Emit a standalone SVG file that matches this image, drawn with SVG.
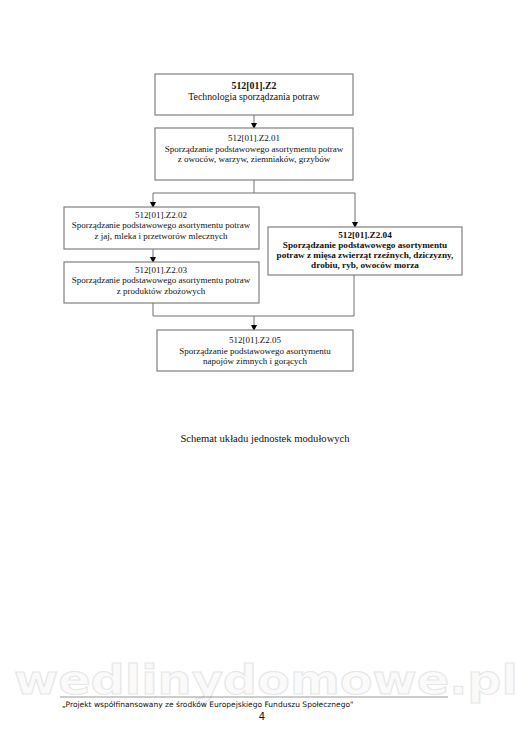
<svg xmlns="http://www.w3.org/2000/svg" width="530" height="750" viewBox="0 0 530 750">
<defs>
<marker id="arr" markerWidth="6" markerHeight="6" refX="5" refY="3" orient="auto" markerUnits="userSpaceOnUse">
<path d="M0,0 L6,3 L0,6 Z" fill="#000"/>
</marker>
<style>
.box{fill:#fff;stroke:#808080;stroke-width:1.2}
.t{font-family:"Liberation Serif","Times New Roman",serif;font-size:9px;fill:#111;text-anchor:middle}
.b{font-weight:bold;font-size:9.2px}
.h{font-size:9.8px}
.cap{font-size:10.6px}
.c{fill:none;stroke:#707070;stroke-width:1}
.ca{fill:none;stroke:#707070;stroke-width:1;marker-end:url(#arr)}
</style>
</defs>
<rect width="530" height="750" fill="#fff"/>
<g id="connectors">
<path class="ca" d="M254,115 V128"/>
<path class="c" d="M254,180 V193 M153,193 H355"/>
<path class="ca" d="M153,193 V207"/>
<path class="ca" d="M355,193 V227"/>
<path class="ca" d="M153,249 V262"/>
<path class="c" d="M153,303 V316 H354 V275"/>
<path class="ca" d="M254,316 V330"/>
</g>
<g id="n-z2">
<rect class="box" x="155" y="74" width="198" height="41"/>
<text class="t h" x="254" y="89" font-weight="bold">512[01].Z2</text>
<text class="t h" x="254" y="100">Technologia sporządzania potraw</text>
</g>
<g id="n-z201">
<rect class="box" x="155" y="128" width="198" height="52"/>
<text class="t" x="254" y="141">512[01].Z2.01</text>
<text class="t" x="254" y="152">Sporządzanie podstawowego asortymentu potraw</text>
<text class="t" x="254" y="162">z owoców, warzyw, ziemniaków, grzybów</text>
</g>
<g id="n-z202">
<rect class="box" x="64" y="207" width="195" height="42"/>
<text class="t" x="161" y="218">512[01].Z2.02</text>
<text class="t" x="161" y="228">Sporządzanie podstawowego asortymentu potraw</text>
<text class="t" x="161" y="239">z jaj, mleka i przetworów mlecznych</text>
</g>
<g id="n-z203">
<rect class="box" x="64" y="262" width="195" height="41"/>
<text class="t" x="161" y="273">512[01].Z2.03</text>
<text class="t" x="161" y="283">Sporządzanie podstawowego asortymentu potraw</text>
<text class="t" x="161" y="294">z produktów zbożowych</text>
</g>
<g id="n-z204">
<rect class="box" x="268" y="227" width="194" height="48"/>
<text class="t b" x="365" y="238">512[01].Z2.04</text>
<text class="t b" x="365" y="248">Sporządzanie podstawowego asortymentu</text>
<text class="t b" x="365" y="258">potraw z mięsa zwierząt rzeźnych, dziczyzny,</text>
<text class="t b" x="365" y="268">drobiu, ryb, owoców morza</text>
</g>
<g id="n-z205">
<rect class="box" x="157" y="330" width="196" height="41"/>
<text class="t" x="255" y="343">512[01].Z2.05</text>
<text class="t" x="255" y="354">Sporządzanie podstawowego asortymentu</text>
<text class="t" x="255" y="364">napojów zimnych i gorących</text>
</g>
<text class="t cap" x="265" y="442">Schemat układu jednostek modułowych</text>
<text x="14" y="694" font-family="DejaVu Sans,sans-serif" font-weight="bold" font-size="40" fill="#fafafa" stroke="#e6e6e6" stroke-width="1" textLength="504" lengthAdjust="spacingAndGlyphs">wedlinydomowe.pl</text>
<line x1="60" y1="697" x2="448" y2="697" stroke="#555" stroke-width="0.6"/>
<text x="62" y="707" font-family="DejaVu Sans,Verdana,sans-serif" font-size="7.5" fill="#111">„Projekt współfinansowany ze środków Europejskiego Funduszu Społecznego"</text>
<text x="262" y="720" font-family="DejaVu Sans,Verdana,sans-serif" font-size="10" fill="#111" text-anchor="middle">4</text>
</svg>
